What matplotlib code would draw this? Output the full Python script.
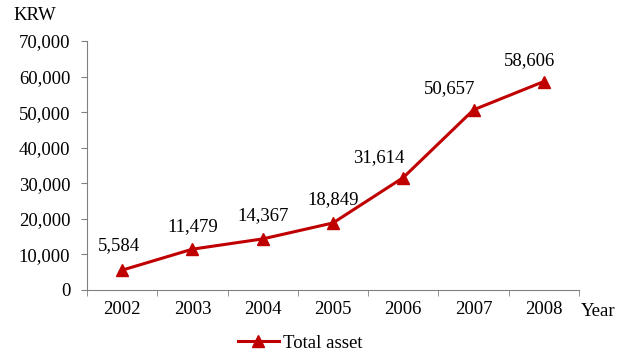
import matplotlib
matplotlib.use("Agg")
import matplotlib.pyplot as plt
from matplotlib.ticker import FuncFormatter, FixedLocator

years = ["2002", "2003", "2004", "2005", "2006", "2007", "2008"]
total_asset = [5584, 11479, 14367, 18849, 31614, 50657, 58606]
series_name = "Total asset"

# label placement (pixel offsets of label centre from its point)
label_offsets = [(-3, 25), (0, 23), (0, 23), (0, 23), (-25, 20), (-24, 21), (-14, 21)]

plt.rcParams['font.family'] = ['Liberation Serif', 'DejaVu Serif']
FS = 13.5
W, H = 628, 356
fig = plt.figure(figsize=(W/100, H/100), dpi=100)
ax = fig.add_axes([87/W, 1-290/H, (579-87)/W, (290-41)/H])

x = list(range(len(years)))
color = '#C00000'
ax.plot(x, total_asset, color=color, lw=2.2, marker='^', ms=9, label=series_name)
for xi, v, (dx, dy) in zip(x, total_asset, label_offsets):
    ax.annotate(f"{v:,}", (xi, v), xytext=(dx, dy), textcoords='offset pixels',
                ha='center', va='center', fontsize=FS)

ax.set_xlim(-0.5, len(years)-0.5)
ax.set_ylim(0, 70000)
ax.set_yticks(range(0, 70001, 10000))
ax.yaxis.set_major_formatter(FuncFormatter(lambda v, p: f"{int(v):,}"))
ax.set_xticks(x)
ax.set_xticklabels(years)
ax.xaxis.set_minor_locator(FixedLocator([i-0.5 for i in range(len(years)+1)]))
ax.tick_params(axis='x', which='major', length=0, pad=8, labelsize=FS)
ax.tick_params(axis='x', which='minor', length=4, color='#808080', direction='out')
ax.tick_params(axis='y', length=4, color='#808080', direction='out', labelsize=FS, pad=8)
for s in ['top', 'right']:
    ax.spines[s].set_visible(False)
for s in ['left', 'bottom']:
    ax.spines[s].set_color('#808080')

fig.text(35/W, 1-15/H, "KRW", ha='center', va='center', fontsize=FS)
fig.text(598/W, 1-311/H, "Year", ha='center', va='center', fontsize=FS)
fig.legend(loc='center', bbox_to_anchor=(300/W, 1-343/H), frameon=False, fontsize=FS,
           handlelength=2.2, handletextpad=0.2)

fig.savefig("out.png", dpi=100)
